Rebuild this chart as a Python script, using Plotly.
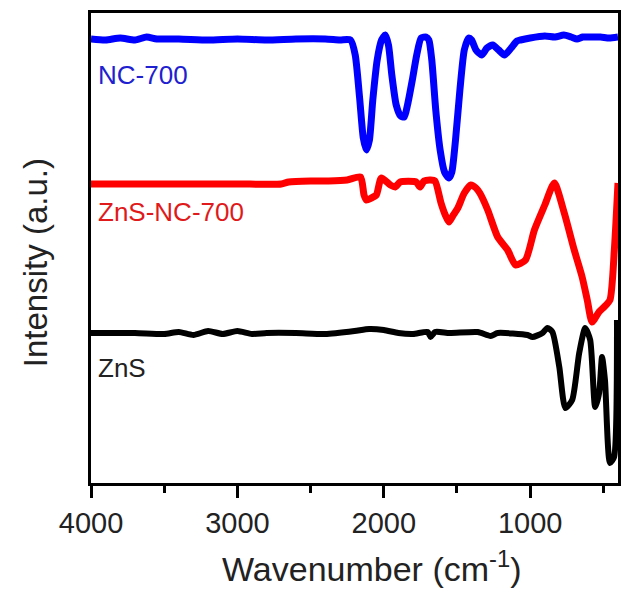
import plotly.graph_objects as go

# Wavenumber (cm^-1) and intensity (a.u.)
nc_wn = [4000, 3900, 3800, 3700, 3620, 3550, 3400, 3200, 3000, 2800, 2600, 2400, 2300, 2227,
         2195, 2165, 2140, 2119, 2098, 2075, 2045, 2015, 1990, 1968, 1945, 1915, 1885, 1860,
         1838, 1805, 1775, 1745, 1711, 1692, 1672, 1645, 1615, 1585, 1555, 1535, 1510, 1480,
         1450, 1420, 1400, 1370, 1331, 1295, 1256, 1215, 1175, 1130, 1090, 1066, 1000, 900,
         830, 770, 720, 680, 640, 580, 520, 460, 400]
nc_int = [444, 443, 445, 443, 446, 444, 444, 443, 444, 443, 444, 444, 443, 443,
          428, 385, 345, 333, 343, 383, 423, 443, 448, 438, 408, 378, 367, 366,
          378, 403, 428, 445, 446, 443, 423, 373, 333, 311, 305, 311, 343, 393,
          433, 445, 443, 433, 428, 435, 438, 433, 428, 435, 442, 443, 445, 447,
          446, 448, 446, 444, 446, 446, 446, 445, 446]

zns_nc_wn = [4000, 3500, 3000, 2700, 2650, 2500, 2377, 2250, 2159, 2135, 2119, 2085, 2051, 2017,
             1955, 1922, 1888, 1779, 1752, 1725, 1680, 1650, 1609, 1580, 1555, 1525, 1494, 1450,
             1405, 1370, 1344, 1290, 1222, 1154, 1100, 1032, 971, 900, 835, 767, 699, 645, 610,
             577, 530, 495, 455, 425, 400]
zns_nc_int = [299, 299, 299, 299, 301, 302, 302, 303, 306, 288, 283, 285, 288, 305,
              298, 296, 301, 301, 296, 302, 303, 302, 280, 268, 261, 268, 275, 290,
              298, 295, 290, 273, 246, 233, 218, 223, 253, 278, 300, 270, 233, 206, 183,
              161, 171, 176, 183, 233, 300]

zns_wn = [4000, 3700, 3500, 3400, 3300, 3200, 3100, 3000, 2900, 2800, 2600, 2400, 2200, 2100,
          2000, 1900, 1800, 1700, 1680, 1650, 1550, 1358, 1270, 1222, 1018, 984, 916, 882, 848,
          801, 760, 713, 665, 624, 590, 556, 529, 509, 489, 455, 427, 407]
zns_int = [150, 150, 149, 151, 148, 152, 149, 152, 149, 150, 150, 149, 152, 154,
           153, 150, 149, 151, 146, 151, 150, 151, 147, 150, 148, 146, 150, 155, 151,
           116, 75, 83, 130, 155, 143, 76, 90, 126, 103, 20, 26, 163]

series_names = ["NC-700", "ZnS-NC-700", "ZnS"]
label_y = [408, 271, 115]
x_ticks = [4000, 3000, 2000, 1000]

fig = go.Figure()
specs = [(nc_wn, nc_int, "#0000ff", 7), (zns_nc_wn, zns_nc_int, "#ff0000", 7), (zns_wn, zns_int, "#000000", 6)]
for (xs, ys, col, w), name in zip(specs, series_names):
    fig.add_trace(go.Scatter(x=xs, y=ys, mode="lines", name=name,
                             line=dict(color=col, width=w, shape="spline", smoothing=0.6),
                             showlegend=False))

label_colors = ["#2020d0", "#e01a1a", "#222222"]
for name, yv, c in zip(series_names, label_y, label_colors):
    fig.add_annotation(x=3965, y=yv, xref="x", yref="y", text=name, showarrow=False,
                       xanchor="left", yanchor="middle",
                       font=dict(family="Liberation Sans, Arial", size=26, color=c))

fig.add_annotation(x=-0.106, y=0.468, xref="paper", yref="paper", text="Intensity (a.u.)",
                   textangle=-90, showarrow=False, xanchor="center", yanchor="middle",
                   font=dict(family="Liberation Sans, Arial", size=33, color="#222222"))
fig.add_annotation(x=0.534, y=-0.177, xref="paper", yref="paper",
                   text="Wavenumber (cm<sup>-1</sup>)", showarrow=False,
                   xanchor="center", yanchor="middle",
                   font=dict(family="Liberation Sans, Arial", size=34, color="#222222"))

fig.update_layout(
    width=624, height=589,
    margin=dict(l=91, r=3, t=13, b=106),
    paper_bgcolor="white", plot_bgcolor="white",
    xaxis=dict(range=[4000, 400], autorange=False, tickvals=x_ticks,
               ticktext=[str(v) for v in x_ticks],
               showline=True, linecolor="black", linewidth=3, mirror=True,
               ticks="outside", ticklen=12, tickwidth=3, tickcolor="black",
               minor=dict(ticks="outside", ticklen=7, tickwidth=3, tickcolor="black",
                          tickvals=[3500, 2500, 1500, 500]),
               showgrid=False, zeroline=False,
               tickfont=dict(family="Liberation Sans, Arial", size=29, color="#222222")),
    yaxis=dict(range=[0, 470], autorange=False, showticklabels=False, ticks="",
               showline=True, linecolor="black", linewidth=3, mirror=True,
               showgrid=False, zeroline=False),
)

fig.write_html("out.html")
